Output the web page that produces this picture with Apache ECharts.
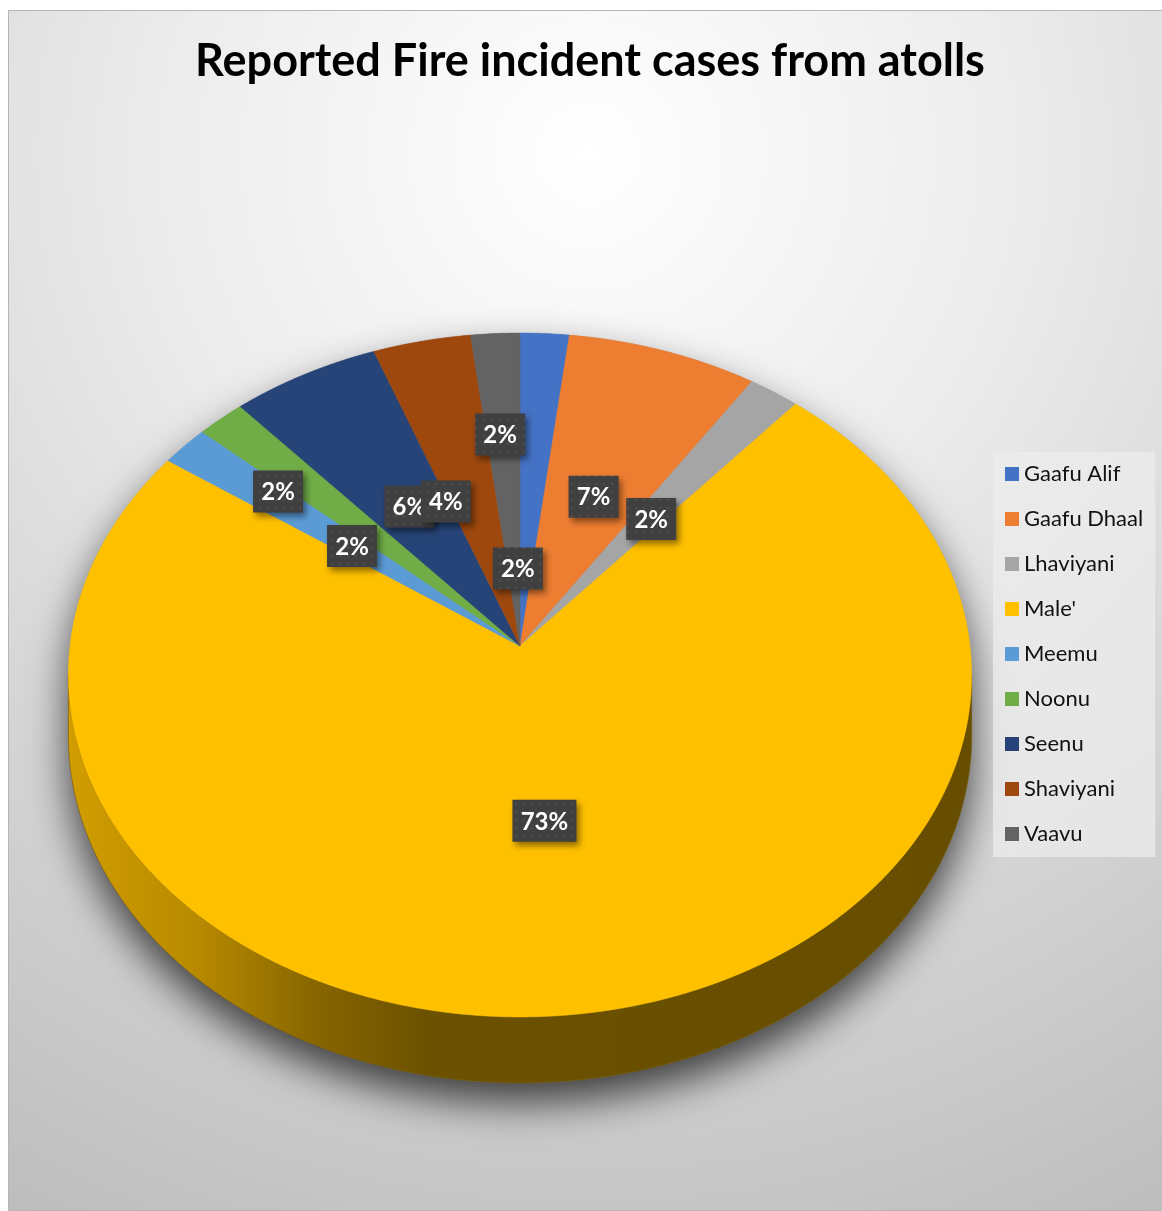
<!DOCTYPE html>
<html>
<head>
<meta charset="utf-8">
<script src="https://cdn.jsdelivr.net/npm/echarts@6/dist/echarts.min.js"></script>
<style>
  html, body { margin: 0; padding: 0; background: #ffffff; }
  #chart { width: 1162px; height: 1211px; }
</style>
</head>
<body>
<div id="chart"></div>
<script>
// Reported fire incidents by atoll (share of all cases, %)
const categories = ['Gaafu Alif', 'Gaafu Dhaal', 'Lhaviyani', "Male'", 'Meemu', 'Noonu', 'Seenu', 'Shaviyani', 'Vaavu'];
const shares = [1.9, 7.4, 2.0, 73.4, 1.9, 1.9, 5.8, 3.8, 1.9];
const chartTitle = 'Reported Fire incident cases from atolls';

// Office palette
const colors = ['#4472C4', '#ED7D31', '#A5A5A5', '#FFC000', '#5B9BD5', '#70AD47', '#264478', '#9E480E', '#636363'];

// Tilted-disc projection of the pie (pixels)
const disc = { cx: 520, cy: 646, rx: 450, ry: 339.5, persp: 0.0847, depth: 60.4 };
// Label placement: fraction of radius, plus per-slice nudges so the boxes don't collide
const labelRadius = 0.5;
const labelNudge = [[-15, 85], [-1, 4], [0, 4], [-5, -1], [-70, -52], [-14, 17], [1, 1], [-23, 14], [-7, -49]];

const FONT = 'Lato, "Open Sans", sans-serif';
const total = shares.reduce((a, b) => a + b, 0);
const cum = [0];
shares.forEach((v, i) => cum.push(cum[i] + v));

// map a point of the unit disc (u right, v towards viewer) at height level (0 top, 1 bottom)
function project(u, v, level) {
  const w = 1 - disc.persp * v;
  return [disc.cx + disc.rx * u / w, disc.cy + disc.ry * v / w + level * disc.depth / w];
}
function rim(t, r, level) {
  return project(r * Math.sin(t), -r * Math.cos(t), level);
}
function shade(hex, f) {
  const n = parseInt(hex.slice(1), 16);
  const c = [(n >> 16) & 255, (n >> 8) & 255, n & 255].map(x => Math.round(x * f));
  return 'rgb(' + c.join(',') + ')';
}
function arcPoints(a, b, r, level) {
  const pts = [];
  const n = Math.max(2, Math.ceil((b - a) / 0.005));
  for (let j = 0; j <= n; j++) pts.push(rim(a + (b - a) * j / n, r, level));
  return pts;
}

// dotted fill for the value boxes
const dotTile = document.createElement('canvas');
dotTile.width = 8; dotTile.height = 8;
(function () {
  const g = dotTile.getContext('2d');
  g.fillStyle = '#404040'; g.fillRect(0, 0, 8, 8);
  g.fillStyle = '#4e4e4e'; g.fillRect(3, 3, 2, 2);
})();

const frontStart = Math.acos(-disc.persp);
const frontEnd = 2 * Math.PI - frontStart;

function makeRender(idx) {
  return function (params, api) {
    const value = api.value(0);
    const a = cum[idx] / total * 2 * Math.PI;
    const b = (cum[idx] + value) / total * 2 * Math.PI;
    const color = colors[idx];
    const children = [];

    if (idx === 0) {
      // soft shadow under the whole disc
      const outline = arcPoints(frontEnd - 2 * Math.PI, frontStart, 1, 0)
        .concat(arcPoints(frontStart, frontEnd, 1, 1));
      children.push({
        type: 'polygon', z2: -5, shape: { points: outline },
        style: { fill: '#999999', shadowBlur: 40, shadowOffsetY: 20, shadowColor: 'rgba(0,0,0,0.7)' }
      });
    }

    // visible side wall
    const wa = Math.max(a, frontStart), wb = Math.min(b, frontEnd);
    if (wb > wa) {
      const pts = arcPoints(wa, wb, 1, 0).concat(arcPoints(wa, wb, 1, 1).reverse());
      children.push({
        type: 'polygon', z2: 0, shape: { points: pts },
        style: {
          fill: {
            type: 'linear', global: true, x: disc.cx - disc.rx, y: 0, x2: disc.cx + disc.rx, y2: 0,
            colorStops: [
              { offset: 0, color: shade(color, 0.82) },
              { offset: 0.14, color: shade(color, 0.72) },
              { offset: 0.28, color: shade(color, 0.52) },
              { offset: 0.4, color: shade(color, 0.42) },
              { offset: 1, color: shade(color, 0.4) }
            ]
          },
          stroke: shade(color, 0.45), lineWidth: 0.6
        }
      });
    }

    // top face
    const top = [project(0, 0, 0)].concat(arcPoints(a, b, 1, 0));
    children.push({
      type: 'polygon', z2: 10, shape: { points: top },
      style: { fill: color, stroke: color, lineWidth: 0.5 }
    });

    // value label
    const mid = (a + b) / 2;
    const p = rim(mid, labelRadius, 0);
    const x = p[0] + labelNudge[idx][0], y = p[1] + labelNudge[idx][1];
    const txt = Math.round(value / total * 100) + '%';
    const bw = txt.length > 2 ? 64 : 50, bh = 42;
    children.push({
      type: 'rect', z2: 20 + idx * 2,
      shape: { x: x - bw / 2, y: y - bh / 2, width: bw, height: bh },
      style: {
        fill: { image: dotTile, repeat: 'repeat' },
        shadowBlur: 6, shadowOffsetX: 3, shadowOffsetY: 4, shadowColor: 'rgba(0,0,0,0.45)'
      }
    });
    children.push({
      type: 'text', z2: 21 + idx * 2, x: x, y: y + 1,
      style: { text: txt, fill: '#ffffff', font: 'bold 24px ' + FONT, align: 'center', verticalAlign: 'middle' }
    });

    return { type: 'group', children: children };
  };
}

const chart = echarts.init(document.getElementById('chart'), null, { renderer: 'canvas' });

chart.setOption({
  animation: false,
  graphic: [
    {
      type: 'rect', z: -10, silent: true,
      shape: { x: 8.5, y: 10.5, width: 1160, height: 1200 },
      style: {
        fill: {
          type: 'radial', x: 0.5, y: 0.12, r: 1.05,
          colorStops: [
            { offset: 0, color: '#ffffff' },
            { offset: 0.35, color: '#ececec' },
            { offset: 0.7, color: '#d2d2d2' },
            { offset: 1, color: '#bcbcbc' }
          ]
        },
        stroke: '#b5b5b5', lineWidth: 1
      }
    },
    {
      type: 'text', z: 5, x: 590, y: 61,
      style: { text: chartTitle, font: 'bold 45px ' + FONT, fill: '#000000', align: 'center', verticalAlign: 'middle' }
    }
  ],
  legend: {
    orient: 'vertical',
    left: 993, top: 452,
    padding: [10, 12, 11, 12],
    backgroundColor: 'rgba(236,236,236,0.75)',
    itemWidth: 14, itemHeight: 14, itemGap: 21,
    icon: 'rect',
    selectedMode: false,
    textStyle: { fontFamily: FONT, fontSize: 22, color: '#111111', lineHeight: 24 },
    data: categories
  },
  series: categories.map((name, i) => ({
    type: 'custom',
    name: name,
    coordinateSystem: 'none',
    itemStyle: { color: colors[i] },
    renderItem: makeRender(i),
    data: [shares[i]]
  }))
});
</script>
</body>
</html>
